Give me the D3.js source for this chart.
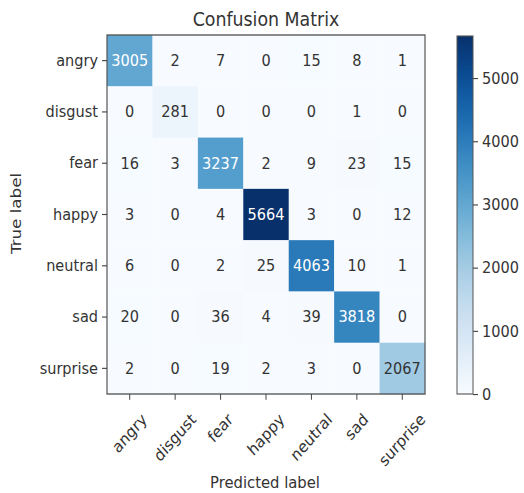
<!DOCTYPE html>
<html>
<head>
<meta charset="utf-8">
<script src="https://cdn.jsdelivr.net/npm/d3@7"></script>
<style>
  html, body { margin: 0; padding: 0; background: #fff; }
  text { font-family: "DejaVu Sans", sans-serif; }
</style>
</head>
<body>
<svg id="chart" width="524" height="493"></svg>
<script>
const classes = ["angry", "disgust", "fear", "happy", "neutral", "sad", "surprise"];
const row_angry    = [3005, 2, 7, 0, 15, 8, 1];
const row_disgust  = [0, 281, 0, 0, 0, 1, 0];
const row_fear     = [16, 3, 3237, 2, 9, 23, 15];
const row_happy    = [3, 0, 4, 5664, 3, 0, 12];
const row_neutral  = [6, 0, 2, 25, 4063, 10, 1];
const row_sad      = [20, 0, 36, 4, 39, 3818, 0];
const row_surprise = [2, 0, 19, 2, 3, 0, 2067];
const colorbarTicks = [0, 1000, 2000, 3000, 4000, 5000];
const titleText = "Confusion Matrix";
const xTitle = "Predicted label";
const yTitle = "True label";

const matrix = [row_angry, row_disgust, row_fear, row_happy, row_neutral, row_sad, row_surprise];
const cells = [];
matrix.forEach((row, i) => row.forEach((v, j) => cells.push({ r: classes[i], c: classes[j], v })));
const vmax = d3.max(cells, d => d.v);

// the reference picture is stretched vertically; draw in an inner space and stretch it
const SY = 1.13;
const FS = 14.5;
const textColor = "#333";
const svg = d3.select("#chart");
const g = svg.append("g").attr("transform", `scale(1,${SY})`);

const M = { left: 107, right: 425, top: 35 / SY, bottom: 394 / SY };

const x = d3.scaleBand().domain(classes).range([M.left, M.right]);
const y = d3.scaleBand().domain(classes).range([M.top, M.bottom]);
const color = d3.scaleSequential(d3.interpolateBlues).domain([0, vmax]);

// cells
g.append("g").selectAll("rect").data(cells).join("rect")
  .attr("x", d => x(d.c)).attr("y", d => y(d.r))
  .attr("width", x.bandwidth() + 0.3).attr("height", y.bandwidth() + 0.3)
  .attr("fill", d => color(d.v));

g.append("g").selectAll("text").data(cells).join("text")
  .attr("x", d => x(d.c) + x.bandwidth() / 2)
  .attr("y", d => y(d.r) + y.bandwidth() / 2)
  .attr("text-anchor", "middle").attr("dominant-baseline", "central")
  .attr("font-size", FS)
  .attr("fill", d => d.v > vmax / 2 ? "#fff" : textColor)
  .text(d => d.v);

// frame
g.append("rect").attr("x", M.left).attr("y", M.top)
  .attr("width", M.right - M.left).attr("height", M.bottom - M.top)
  .attr("fill", "none").attr("stroke", "#555").attr("stroke-width", 1.2);

// y axis
const yAxis = g.append("g").attr("transform", `translate(${M.left},0)`)
  .call(d3.axisLeft(y).tickSize(5).tickPadding(4));
yAxis.select(".domain").remove();
yAxis.selectAll("text").attr("font-size", FS).attr("fill", textColor).style("font-family", "DejaVu Sans");
yAxis.selectAll("line").attr("stroke", "#444");

// x axis with rotated labels centred on ticks (matplotlib style)
const xAxis = g.append("g").attr("transform", `translate(0,${M.bottom})`)
  .call(d3.axisBottom(x).tickSize(5).tickPadding(4));
xAxis.select(".domain").remove();
xAxis.selectAll("line").attr("stroke", "#444");
const labelTop = 15;
xAxis.selectAll("text").attr("font-size", FS).attr("fill", textColor).style("font-family", "DejaVu Sans")
  .attr("text-anchor", "middle").attr("dy", null).attr("dominant-baseline", "central")
  .each(function () {
    const w = this.getComputedTextLength();
    const h = FS * 1.0;
    const cy = labelTop + (w + h) / Math.SQRT2 / 2;
    d3.select(this).attr("x", 0).attr("y", 0)
      .attr("transform", `translate(0,${cy}) rotate(-45)`);
  });

// titles
g.append("text").attr("x", 266).attr("y", 26 / SY)
  .attr("text-anchor", "middle").attr("font-size", 17.4).attr("fill", textColor).text(titleText);
g.append("text").attr("x", 265).attr("y", 488 / SY)
  .attr("text-anchor", "middle").attr("font-size", FS + 0.3).attr("fill", textColor).text(xTitle);
g.append("text").attr("transform", `translate(21,${213.5 / SY}) rotate(-90)`)
  .attr("text-anchor", "middle").attr("font-size", FS + 0.3).attr("fill", textColor).text(yTitle);

// colorbar
const cb = { x: 457, w: 16, top: 36 / SY, bottom: 394 / SY };
const defs = svg.append("defs");
const grad = defs.append("linearGradient").attr("id", "cbgrad")
  .attr("x1", 0).attr("y1", 1).attr("x2", 0).attr("y2", 0);
d3.range(0, 1.0001, 0.05).forEach(t => grad.append("stop").attr("offset", t).attr("stop-color", d3.interpolateBlues(t)));
g.append("rect").attr("x", cb.x).attr("y", cb.top).attr("width", cb.w).attr("height", cb.bottom - cb.top)
  .attr("fill", "url(#cbgrad)").attr("stroke", "#555").attr("stroke-width", 1);
const cbScale = d3.scaleLinear().domain([0, vmax]).range([cb.bottom, cb.top]);
const cbAxis = g.append("g").attr("transform", `translate(${cb.x + cb.w},0)`)
  .call(d3.axisRight(cbScale).tickValues(colorbarTicks).tickSize(5).tickPadding(4).tickFormat(d3.format("d")));
cbAxis.select(".domain").remove();
cbAxis.selectAll("line").attr("stroke", "#444");
cbAxis.selectAll("text").attr("font-size", FS).attr("fill", textColor).style("font-family", "DejaVu Sans");
</script>
</body>
</html>
